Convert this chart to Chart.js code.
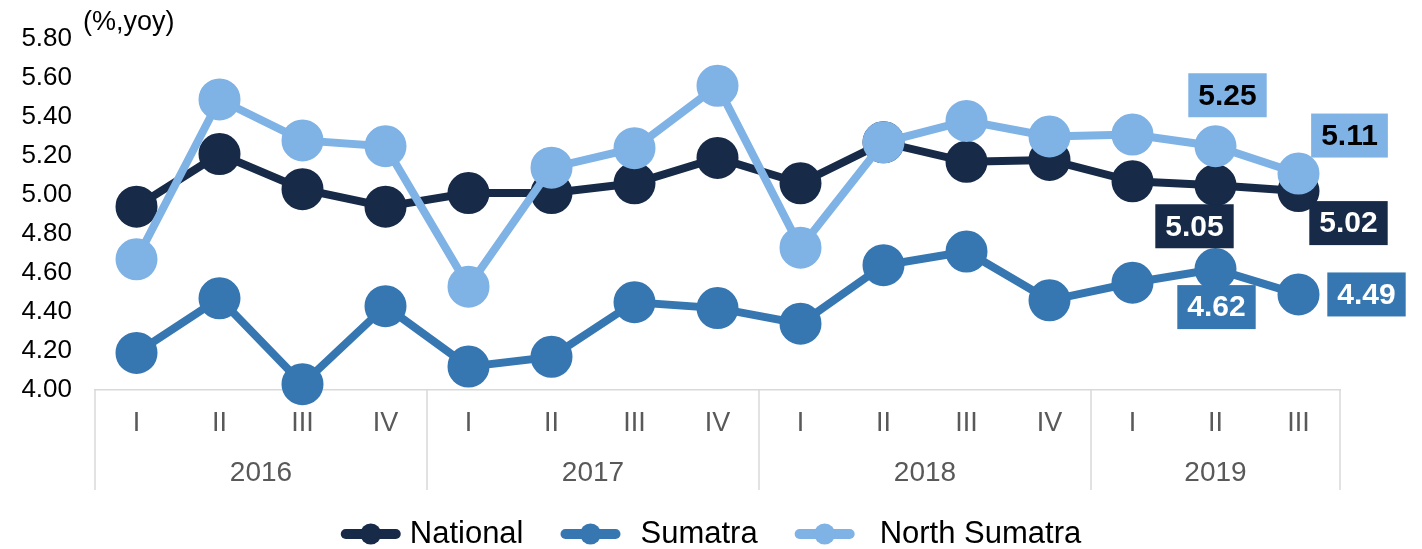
<!DOCTYPE html>
<html>
<head>
<meta charset="utf-8">
<title>Growth: National, Sumatra, North Sumatra</title>
<script src="https://cdn.jsdelivr.net/npm/chart.js@4.4.1/dist/chart.umd.min.js"></script>
<style>
  html, body { margin: 0; padding: 0; background: #ffffff; }
  canvas { display: block; }
</style>
</head>
<body>
<canvas id="growth" width="1422" height="549"></canvas>
<script>
// Quarterly categories, grouped by year on a second label row
const quarterLabels = ['I', 'II', 'III', 'IV', 'I', 'II', 'III', 'IV', 'I', 'II', 'III', 'IV', 'I', 'II', 'III'];
const yearLabels = ['2016', '2017', '2018', '2019'];
const quartersInYear = [4, 4, 4, 3];

// Value axis
const yTickValues = [4.00, 4.20, 4.40, 4.60, 4.80, 5.00, 5.20, 5.40, 5.60, 5.80];
const unitLabel = '(%,yoy)';

// Series (%, year on year)
const seriesNames = ['National', 'Sumatra', 'North Sumatra'];
const national     = [4.94, 5.21, 5.03, 4.94, 5.01, 5.01, 5.06, 5.19, 5.06, 5.27, 5.17, 5.18, 5.07, 5.05, 5.02];
const sumatra      = [4.19, 4.47, 4.03, 4.43, 4.12, 4.17, 4.45, 4.42, 4.34, 4.64, 4.71, 4.46, 4.55, 4.62, 4.49];
const northSumatra = [4.67, 5.49, 5.28, 5.25, 4.53, 5.14, 5.24, 5.56, 4.73, 5.27, 5.38, 5.30, 5.31, 5.25, 5.11];

const FONT = "'Liberation Sans', Arial, Helvetica, sans-serif";
const colors = ['#172A48', '#3677B2', '#7FB2E5'];
const AXIS_GREY = '#D9D9D9';
const TEXT_GREY = '#595959';

function lineSeries(label, data, color, order) {
  return {
    label, data, order,
    borderColor: color,
    backgroundColor: color,
    borderWidth: 8,
    tension: 0,
    pointRadius: 20,
    pointHoverRadius: 20,
    pointBorderWidth: 2,
    pointBackgroundColor: color,
    pointBorderColor: color,
    clip: false
  };
}

// Year row underneath the quarter labels, with group separators
const yearAxisPlugin = {
  id: 'yearAxis',
  afterDraw(chart, args, opts) {
    const xs = chart.scales.x;
    const ctx = chart.ctx;
    const n = quarterLabels.length;
    const edgeAt = k => k === 0 ? xs.left : (k === n ? xs.right : (xs.getPixelForValue(k - 1) + xs.getPixelForValue(k)) / 2);
    const top = chart.chartArea.bottom;
    ctx.save();
    ctx.strokeStyle = opts.lineColor;
    ctx.lineWidth = opts.lineWidth;
    ctx.fillStyle = opts.color;
    ctx.font = opts.font;
    ctx.textAlign = 'center';
    ctx.textBaseline = 'middle';
    let start = 0;
    yearLabels.forEach((yr, i) => {
      const end = start + quartersInYear[i];
      const l = edgeAt(start), r = edgeAt(end);
      const edges = i === yearLabels.length - 1 ? [l, r] : [l];
      edges.forEach(px => {
        ctx.beginPath();
        ctx.moveTo(px, top);
        ctx.lineTo(px, top + opts.lineLength);
        ctx.stroke();
      });
      ctx.fillText(yr, (l + r) / 2, top + opts.labelOffset);
      start = end;
    });
    ctx.restore();
  }
};

// Unit caption beside the top tick
const unitPlugin = {
  id: 'unitCaption',
  afterDraw(chart, args, opts) {
    const ctx = chart.ctx;
    ctx.save();
    ctx.font = opts.font;
    ctx.fillStyle = opts.color;
    ctx.textAlign = 'left';
    ctx.textBaseline = 'alphabetic';
    ctx.fillText(unitLabel, chart.chartArea.left + opts.dx, opts.baseline);
    ctx.restore();
  }
};

// Boxed value labels on selected points
const valueLabelPlugin = {
  id: 'valueLabels',
  afterDatasetsDraw(chart, args, opts) {
    const ctx = chart.ctx;
    ctx.save();
    ctx.font = opts.font;
    ctx.textAlign = 'center';
    ctx.textBaseline = 'middle';
    opts.items.forEach(it => {
      const ds = chart.data.datasets[it.dataset];
      const pt = chart.getDatasetMeta(it.dataset).data[it.index];
      const text = ds.data[it.index].toFixed(2);
      const w = ctx.measureText(text).width + opts.padX * 2;
      const h = opts.boxHeight;
      const cx = pt.x + it.dx, cy = pt.y + it.dy;
      ctx.fillStyle = ds.borderColor;
      ctx.fillRect(cx - w / 2, cy - h / 2, w, h);
      ctx.fillStyle = it.textColor;
      ctx.fillText(text, cx, cy + 1);
    });
    ctx.restore();
  }
};

// Legend with line-and-marker swatches
const lineLegendPlugin = {
  id: 'lineLegend',
  afterDraw(chart, args, opts) {
    const ctx = chart.ctx;
    ctx.save();
    ctx.font = opts.font;
    const items = chart.data.datasets.map((ds, i) => ({
      label: ds.label,
      color: ds.borderColor,
      gap: opts.textGaps[i],
      tw: ctx.measureText(ds.label).width
    }));
    const total = items.reduce((s, it) => s + opts.swatchWidth + it.gap + it.tw, 0) + opts.itemGap * (items.length - 1);
    let x = chart.width / 2 - total / 2;
    const y = opts.y;
    items.forEach(it => {
      ctx.strokeStyle = it.color;
      ctx.fillStyle = it.color;
      ctx.lineWidth = opts.swatchLine;
      ctx.lineCap = 'round';
      ctx.beginPath();
      ctx.moveTo(x + opts.swatchLine / 2, y);
      ctx.lineTo(x + opts.swatchWidth - opts.swatchLine / 2, y);
      ctx.stroke();
      ctx.beginPath();
      ctx.arc(x + opts.swatchWidth / 2, y, opts.dotRadius, 0, Math.PI * 2);
      ctx.fill();
      x += opts.swatchWidth + it.gap;
      ctx.fillStyle = opts.color;
      ctx.textAlign = 'left';
      ctx.textBaseline = 'middle';
      ctx.fillText(it.label, x, y);
      x += it.tw + opts.itemGap;
    });
    ctx.restore();
  }
};

new Chart(document.getElementById('growth'), {
  type: 'line',
  data: {
    labels: quarterLabels,
    datasets: [
      lineSeries(seriesNames[0], national, colors[0], 1),
      lineSeries(seriesNames[1], sumatra, colors[1], 2),
      lineSeries(seriesNames[2], northSumatra, colors[2], 0)
    ]
  },
  plugins: [yearAxisPlugin, unitPlugin, valueLabelPlugin, lineLegendPlugin],
  options: {
    responsive: false,
    animation: false,
    events: [],
    layout: { padding: { top: 39, right: 82, bottom: 0, left: 0 } },
    scales: {
      x: {
        type: 'category',
        offset: true,
        grid: { display: false, drawTicks: false },
        border: { display: true, color: AXIS_GREY, width: 1.5 },
        ticks: {
          autoSkip: false, maxRotation: 0, padding: 17,
          color: TEXT_GREY,
          font: { family: FONT, size: 27 }
        },
        afterFit(scale) { scale.height = 159; }
      },
      y: {
        min: 4.0,
        max: 5.8,
        grid: { display: false, drawTicks: false },
        border: { display: false },
        afterBuildTicks(scale) { scale.ticks = yTickValues.map(v => ({ value: v })); },
        ticks: {
          padding: 23,
          color: '#000000',
          font: { family: FONT, size: 26 },
          callback: v => Number(v).toFixed(2)
        },
        afterFit(scale) { scale.width = 95; }
      }
    },
    plugins: {
      legend: { display: false },
      tooltip: { enabled: false },
      yearAxis: {
        font: `28px ${FONT}`, color: TEXT_GREY,
        lineColor: AXIS_GREY, lineWidth: 1.5, lineLength: 100, labelOffset: 83
      },
      unitCaption: { font: `27px ${FONT}`, color: '#000000', dx: -12, baseline: 29.5 },
      valueLabels: {
        font: `bold 30px ${FONT}`, padX: 10, boxHeight: 44,
        items: [
          { dataset: 2, index: 13, dx: 12, dy: -51, textColor: '#000000' },
          { dataset: 2, index: 14, dx: 51, dy: -38, textColor: '#000000' },
          { dataset: 0, index: 13, dx: -21, dy: 41, textColor: '#FFFFFF' },
          { dataset: 0, index: 14, dx: 50, dy: 32, textColor: '#FFFFFF' },
          { dataset: 1, index: 13, dx: 1, dy: 38, textColor: '#FFFFFF' },
          { dataset: 1, index: 14, dx: 68, dy: 0, textColor: '#FFFFFF' }
        ]
      },
      lineLegend: {
        font: `31px ${FONT}`, color: '#000000', y: 534,
        swatchWidth: 60, swatchLine: 10, dotRadius: 10.5,
        textGaps: [9, 20, 25], itemGap: 37
      }
    }
  }
});
</script>
</body>
</html>
